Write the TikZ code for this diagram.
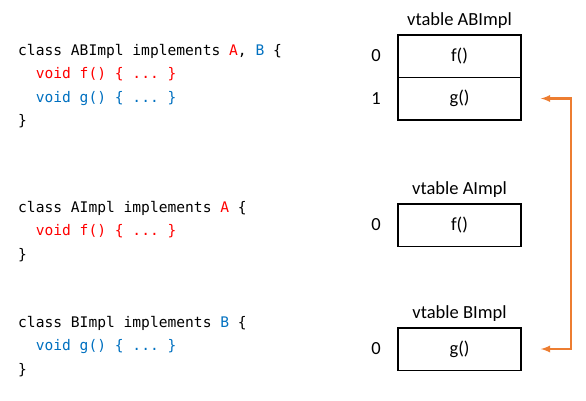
\documentclass[tikz,border=0pt]{standalone}
\usepackage{fontspec}
\setmainfont{Carlito}
\setmonofont{DejaVu Sans Mono}
\usetikzlibrary{positioning}
\definecolor{fred}{RGB}{255,0,0}
\definecolor{gblue}{RGB}{0,112,192}
\definecolor{linkorange}{RGB}{237,125,49}
\begin{document}
\begin{tikzpicture}[x=1pt,y=-1pt,
        code/.style={anchor=base west,inner sep=0pt,font=\ttfamily\fontsize{14.6}{16}\selectfont},
        slot/.style={draw,line width=1.5pt,minimum width=123pt,minimum height=42.5pt,inner sep=0pt,
            font=\fontsize{18.5}{20}\selectfont},
        idx/.style={left=13pt,font=\fontsize{18.5}{20}\selectfont},
        title/.style={above=2pt,font=\fontsize{18.5}{20}\selectfont},
        link/.style={<->,>=latex,line width=2.2pt,color=linkorange}]
\useasboundingbox (0,0) rectangle (586,400);

% class ABImpl
\node[code] (ab1) at (18,55) {class ABImpl implements \textcolor{fred}{A}, \textcolor{gblue}{B} \{};
\node[code,color=fred] (ab2) at (18,78.5) {\ \ void f() \{ ... \}};
\node[code,color=gblue] (ab3) at (18,102) {\ \ void g() \{ ... \}};
\node[code] (ab4) at (18,125.5) {\}};

% class AImpl
\node[code] (a1) at (18,212) {class AImpl implements \textcolor{fred}{A} \{};
\node[code,color=fred] (a2) at (18,235.5) {\ \ void f() \{ ... \}};
\node[code] (a3) at (18,259) {\}};

% class BImpl
\node[code] (b1) at (18,327) {class BImpl implements \textcolor{gblue}{B} \{};
\node[code,color=gblue] (b2) at (18,350.5) {\ \ void g() \{ ... \}};
\node[code] (b3) at (18,374) {\}};

% vtables
\node[slot] (fab) at (459.5,56) {f()};
\node[slot] (gab) at (459.5,98.5) {g()};
\node[title] (tab) at (fab.north) {vtable ABImpl};
\node[idx] (iab0) at (fab.west) {0};
\node[idx] (iab1) at (gab.west) {1};

\node[slot] (fa) at (459.5,225) {f()};
\node[title] (ta) at (fa.north) {vtable AImpl};
\node[idx] (ia0) at (fa.west) {0};

\node[slot] (gb) at (459.5,349) {g()};
\node[title] (tb) at (gb.north) {vtable BImpl};
\node[idx] (ib0) at (gb.west) {0};

\draw[link] ([xshift=19pt]gab.east) -- ++(30,0) |- ([xshift=19pt]gb.east);

\end{tikzpicture}
\end{document}
